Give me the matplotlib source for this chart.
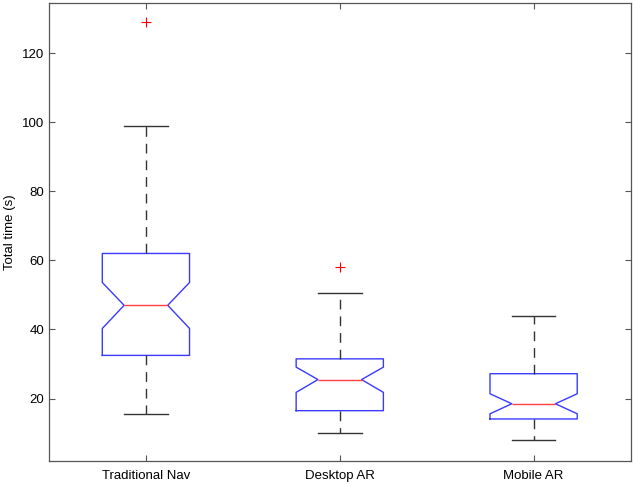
import matplotlib
matplotlib.use("Agg")
import matplotlib.pyplot as plt

groups = ["Traditional Nav", "Desktop AR", "Mobile AR"]
q1 = [32.5, 16.5, 14.1]
med = [47.0, 25.5, 18.5]
q3 = [62.0, 31.5, 27.2]
notch_lo = [40.3, 21.8, 15.6]
notch_hi = [53.6, 29.1, 21.4]
whis_lo = [15.5, 10.0, 8.0]
whis_hi = [99.0, 50.5, 44.0]
fliers = [[129.0], [58.2], []]

plt.rcParams['font.family'] = ['Liberation Sans', 'DejaVu Sans']

fig = plt.figure(figsize=(6.33, 4.84), dpi=100)
ax = fig.add_axes([0.0774, 0.048, 0.9187, 0.9458])

stats = []
for i in range(len(groups)):
    stats.append(dict(label=groups[i], q1=q1[i], med=med[i], q3=q3[i],
                      cilo=notch_lo[i], cihi=notch_hi[i],
                      whislo=whis_lo[i], whishi=whis_hi[i], fliers=fliers[i]))

ax.bxp(stats, positions=[1, 2, 3], widths=0.45, shownotches=True,
       boxprops=dict(color='#3a3aff', linewidth=1.0),
       medianprops=dict(color='#ff4040', linewidth=1.0),
       whiskerprops=dict(color='#333333', linewidth=1.0, linestyle=(0, (7, 5))),
       capprops=dict(color='#333333', linewidth=1.0),
       flierprops=dict(marker='+', markeredgecolor='red', markersize=7,
                       markeredgewidth=0.8, linestyle='none'))

ax.set_xlim(0.5, 3.5)
ax.set_ylim(2, 134.5)
ax.set_yticks([20, 40, 60, 80, 100, 120])
ax.set_ylabel("Total time (s)", fontsize=9.5, labelpad=4)
ax.tick_params(direction='in', length=4, labelsize=9.5, color='#555555',
               top=True, right=True)
ax.tick_params(axis='x', pad=7)
for s in ax.spines.values():
    s.set_color('#555555')
    s.set_linewidth(0.9)

fig.savefig("out.png", dpi=100)
